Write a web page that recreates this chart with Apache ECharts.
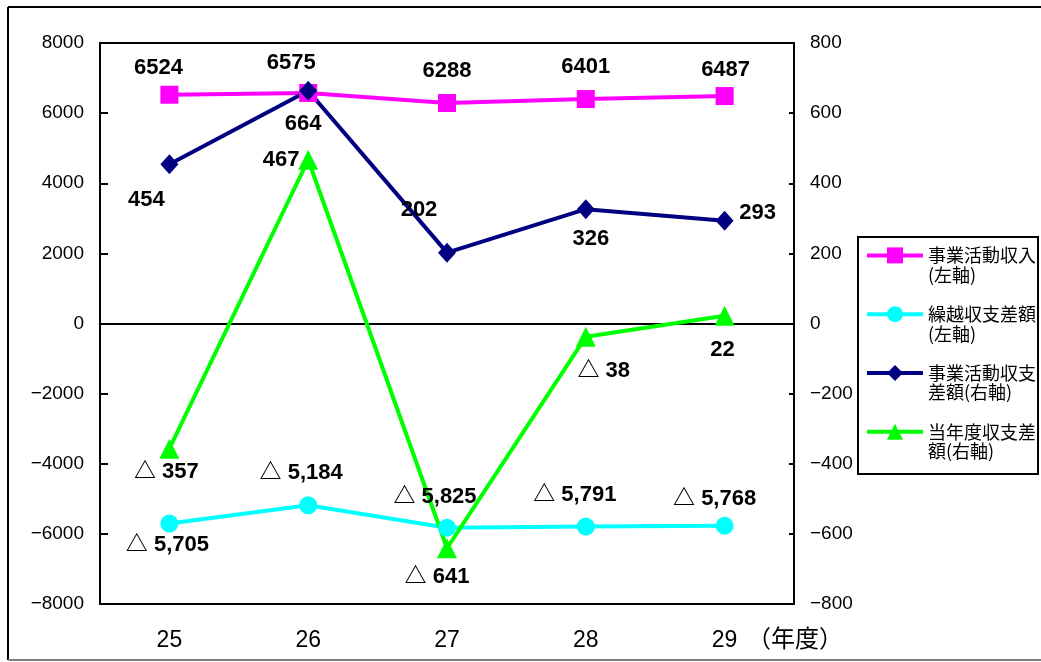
<!DOCTYPE html>
<html lang="ja">
<head>
<meta charset="UTF-8">
<title>事業活動収支の推移</title>
<script src="https://cdn.jsdelivr.net/npm/echarts@6/dist/echarts.min.js"></script>
</head>
<body style="margin:0">
<div id="main" style="width:1041px;height:662px"></div>
<script type="text/javascript">
// 年度
var years = ['25', '26', '27', '28', '29'];
// 凡例名（先頭の改行は凡例記号を1行目にそろえるため）
var names = ['\n事業活動収入\n(左軸)', '\n繰越収支差額\n(左軸)', '\n事業活動収支\n差額(右軸)', '\n当年度収支差\n額(右軸)'];
// 左軸
var income = [6524, 6575, 6288, 6401, 6487];
var carried = [-5705, -5184, -5825, -5791, -5768];
// 右軸
var activity = [454, 664, 202, 326, 293];
var yearly = [-357, 467, -641, -38, 22];

// ラベル位置（点からのずれ）
var incomeOff = [[-11, -27], [-17, -30], [0, -32], [0, -32], [1, -26]];
var carriedOff = [[-2, 21], [-7, -32], [-12, -31], [-11, -32], [-10, -27]];
var activityOff = [[-23, 36], [-5, 33], [-28, -43], [5, 30], [33, -8]];
var yearlyOff = [[-3, 23], [-27, 0], [-10, 29], [18, 34], [-2, 34]];

var myChart = echarts.init(document.getElementById('main'));

function withOffsets(vals, offs) {
    return vals.map(function (v, i) {
        return { value: v, label: { offset: offs[i] } };
    });
}
function tri(v) {
    // 負の値は △ 表記
    return v < 0 ? '△ ' + Math.abs(v).toLocaleString('en-US') : String(v);
}
var labelStyle = {
    show: true,
    position: 'inside',
    color: '#000',
    fontSize: 22,
    fontWeight: 'bold',
    fontFamily: '"Liberation Sans", "Noto Sans CJK JP", sans-serif'
};
var minus = function (v) { return String(v).replace('-', '−'); };

var option = {
    backgroundColor: '#fff',
    animation: false,
    grid: { left: 100, right: 247, top: 43, bottom: 58, show: true, borderColor: '#000', borderWidth: 2 },
    legend: {
        orient: 'vertical',
        left: 865,
        top: 226,
        padding: 0,
        itemWidth: 56,
        itemHeight: 20,
        itemGap: 0,
        data: names,
        lineStyle: { width: 4 },
        textStyle: {
            color: '#000',
            fontSize: 18,
            lineHeight: 19.6,
            fontFamily: '"Noto Sans CJK JP", sans-serif'
        }
    },
    xAxis: [{
        type: 'category',
        data: years,
        axisLine: { onZero: true, lineStyle: { color: '#000', width: 2 } },
        axisTick: { inside: true, length: 9, interval: 0, lineStyle: { color: '#000', width: 2 } },
        axisLabel: { show: false },
        splitLine: { show: false }
    }, {
        type: 'category',
        data: years,
        position: 'bottom',
        axisLine: { show: false, onZero: false },
        axisTick: { show: false },
        axisLabel: { color: '#000', fontSize: 23, margin: 25, fontFamily: '"Liberation Sans", sans-serif' },
        splitLine: { show: false }
    }],
    yAxis: [{
        type: 'value',
        min: -8000, max: 8000, interval: 2000,
        axisLine: { show: true, lineStyle: { color: '#000', width: 2 } },
        axisTick: { show: true, inside: true, length: 8, lineStyle: { color: '#000', width: 2 } },
        axisLabel: { color: '#000', fontSize: 19, margin: 16, formatter: minus, fontFamily: '"Liberation Sans", sans-serif' },
        splitLine: { show: false }
    }, {
        type: 'value',
        position: 'right',
        min: -800, max: 800, interval: 200,
        axisLine: { show: true, lineStyle: { color: '#000', width: 2 } },
        axisTick: { show: true, inside: true, length: 5, lineStyle: { color: '#000', width: 2 } },
        axisLabel: { color: '#000', fontSize: 19, margin: 16, formatter: minus, fontFamily: '"Liberation Sans", sans-serif' },
        splitLine: { show: false }
    }],
    graphic: [
        { type: 'line', shape: { x1: 8, y1: 7, x2: 8, y2: 660 }, style: { stroke: '#000', lineWidth: 2 } },
        { type: 'line', shape: { x1: 8, y1: 7, x2: 1041, y2: 7 }, style: { stroke: '#000', lineWidth: 2 } },
        { type: 'line', shape: { x1: 8, y1: 660, x2: 1041, y2: 660 }, style: { stroke: '#808080', lineWidth: 2 } },
        { type: 'rect', shape: { x: 858, y: 237, width: 180, height: 237 }, style: { fill: 'none', stroke: '#000', lineWidth: 2 } },
        { type: 'text', left: 747, top: 626, style: { text: '（年度）', fontSize: 24, fill: '#000', fontFamily: '"Noto Sans CJK JP", sans-serif' } }
    ],
    series: [{
        name: names[0],
        type: 'line',
        yAxisIndex: 0,
        data: withOffsets(income, incomeOff),
        symbol: 'rect',
        symbolSize: 18,
        lineStyle: { color: '#ff00ff', width: 4 },
        itemStyle: { color: '#ff00ff' },
        label: Object.assign({}, labelStyle, { formatter: function (p) { return p.value; } })
    }, {
        name: names[1],
        type: 'line',
        yAxisIndex: 0,
        data: withOffsets(carried, carriedOff),
        symbol: 'circle',
        symbolSize: 18,
        lineStyle: { color: '#00ffff', width: 4 },
        itemStyle: { color: '#00ffff' },
        label: Object.assign({}, labelStyle, { formatter: function (p) { return tri(p.value); } })
    }, {
        name: names[2],
        type: 'line',
        yAxisIndex: 1,
        data: withOffsets(activity, activityOff),
        symbol: 'diamond',
        symbolSize: [18, 20],
        lineStyle: { color: '#000080', width: 4 },
        itemStyle: { color: '#000080' },
        label: Object.assign({}, labelStyle, { formatter: function (p) { return tri(p.value); } })
    }, {
        name: names[3],
        type: 'line',
        yAxisIndex: 1,
        data: withOffsets(yearly, yearlyOff),
        symbol: 'triangle',
        symbolSize: 20,
        lineStyle: { color: '#00ff00', width: 4 },
        itemStyle: { color: '#00ff00' },
        label: Object.assign({}, labelStyle, { formatter: function (p) { return tri(p.value); } })
    }]
};
myChart.setOption(option);
</script>
</body>
</html>
